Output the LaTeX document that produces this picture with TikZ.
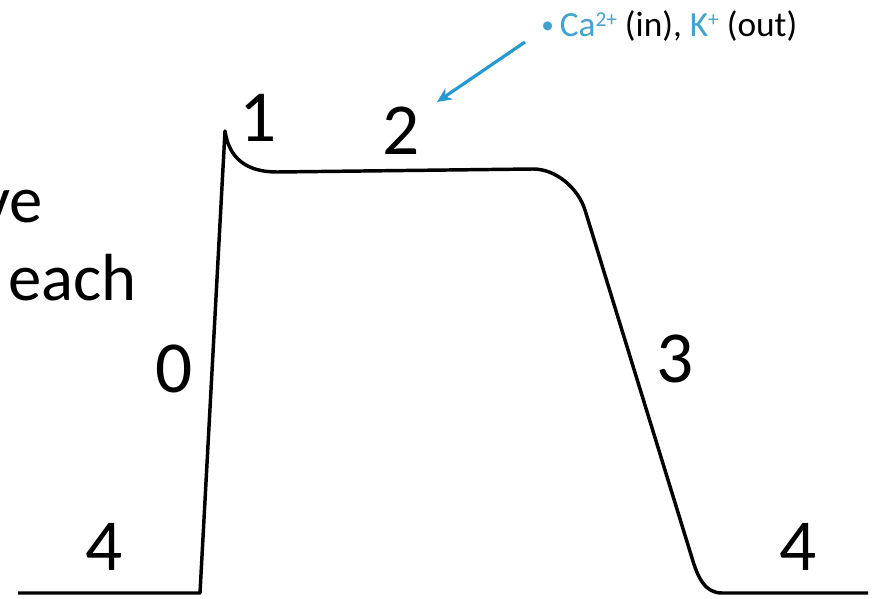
\documentclass[tikz,border=0pt]{standalone}
\usepackage{fontspec}
\setmainfont{Carlito}
\usetikzlibrary{arrows.meta}
\definecolor{ionblue}{RGB}{66,163,206}
\definecolor{arrowblue}{RGB}{38,154,208}
\newcommand{\ionsup}[1]{\raisebox{0.62ex}{\fontsize{16}{17}\selectfont #1}}
\begin{document}
\begin{tikzpicture}[x=0.75pt,y=-0.75pt,
  phase/.style={inner sep=0pt,anchor=base,font=\fontsize{55}{60}\selectfont},
  slidetext/.style={inner sep=0pt,font=\fontsize{50}{58}\selectfont},
  curve/.style={line width=2.6pt,line join=round,line cap=butt},
  ionarrow/.style={draw=arrowblue,line width=2.4pt,-{Stealth[length=11pt,width=10pt]}}]
\useasboundingbox (0,0) rectangle (882,599);
% slide text fragments
\node[slidetext,anchor=base east] (ve) at (43,223) {ve};
\node[slidetext,anchor=base west] (each) at (8,300) {each};
% action potential curve
\coordinate (s0) at (18,593);
\coordinate (c0) at (200,593);
\coordinate (pk) at (225,131);
\coordinate (p1) at (277,172);
\coordinate (p2) at (533,169);
\coordinate (d1) at (585,210);
\coordinate (d2) at (692,558);
\coordinate (b2) at (722,593);
\coordinate (e0) at (868,593);
\draw[curve] (s0) -- (c0) -- (pk) .. controls (229,158) and (246,172) .. (p1)
  -- (p2) .. controls (556,169) and (578,188) .. (d1)
  -- (d2) .. controls (698,578) and (705,593) .. (b2) -- (e0);
% phase labels
\node[phase] (ph0) at (174,392) {0};
\node[phase] (ph1) at (258,142) {1};
\node[phase] (ph2) at (401,155) {2};
\node[phase] (ph3) at (675,382) {3};
\node[phase] (ph4a) at (104,570) {4};
\node[phase] (ph4b) at (798,570) {4};
% ion annotation
\node[inner sep=0pt,anchor=base west,font=\fontsize{26.5}{30}\selectfont] (ions) at (541,37)
  {\textcolor{ionblue}{\fontsize{19}{19}\selectfont\raisebox{0.25ex}{\textbullet}}\,\textcolor{ionblue}{Ca\ionsup{2+}} (in), \textcolor{ionblue}{K\ionsup{+}} (out)};
\coordinate (arrS) at (525,42);
\coordinate (arrE) at (437,102);
\draw[ionarrow] (arrS) -- (arrE);
\end{tikzpicture}
\end{document}
